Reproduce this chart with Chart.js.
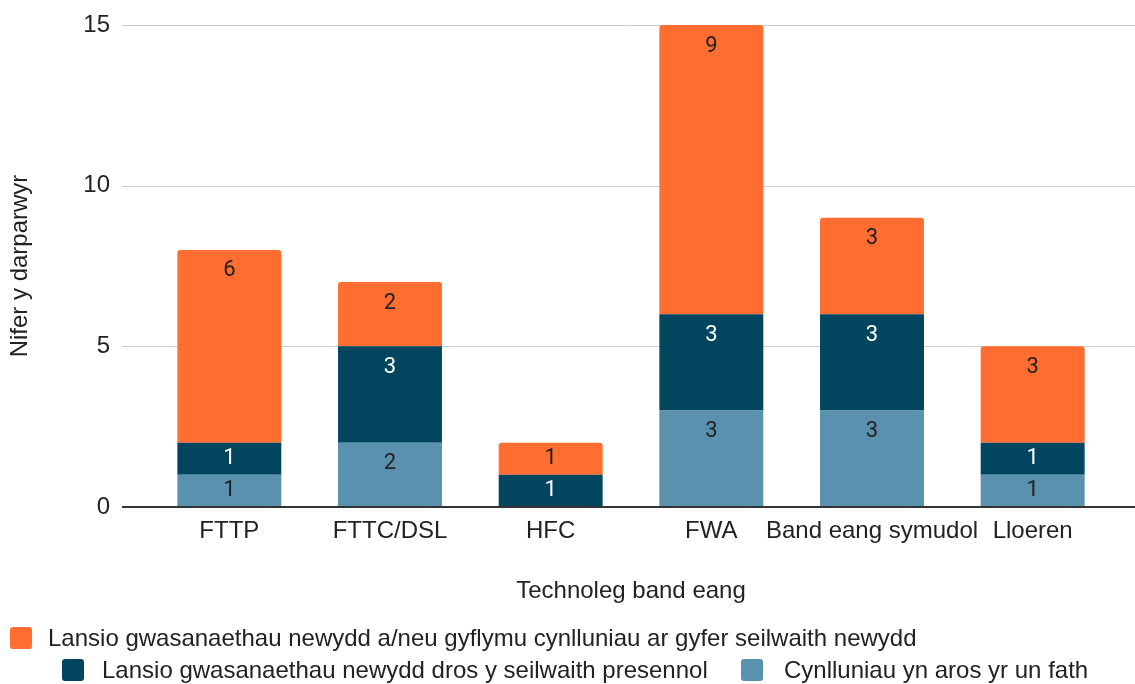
<!DOCTYPE html>
<html>
<head>
<meta charset="utf-8">
<script src="https://cdn.jsdelivr.net/npm/chart.js@4"></script>
<style>
html,body{margin:0;padding:0;background:#fff;}
#wrap{width:1135px;height:684px;position:relative;}
</style>
</head>
<body>
<div id="wrap"><canvas id="c" width="1135" height="684"></canvas></div>
<script>
const categories = ['FTTP', 'FTTC/DSL', 'HFC', 'FWA', 'Band eang symudol', 'Lloeren'];
const seriesNames = [
  'Cynlluniau yn aros yr un fath',
  'Lansio gwasanaethau newydd dros y seilwaith presennol',
  'Lansio gwasanaethau newydd a/neu gyflymu cynlluniau ar gyfer seilwaith newydd'
];
const sameValues = [1, 2, 0, 3, 3, 1];
const existingInfraValues = [1, 3, 1, 3, 3, 1];
const newInfraValues = [6, 2, 1, 9, 3, 3];
const yTickStep = 5;
const yMax = 15;
const xTitle = 'Technoleg band eang';
const yTitle = 'Nifer y darparwyr';

const colors = ['#5a91ae', '#01455f', '#ff6d31'];
const labelColors = ['#222222', '#ffffff', '#222222'];
const AX_FONT = '"Liberation Sans", Arial, sans-serif';
const LBL_FONT = 'Roboto, "Liberation Sans", sans-serif';

const gridPlugin = {
  id: 'gridExt',
  beforeDatasetsDraw(chart) {
    const y = chart.scales.y, ctx = chart.ctx;
    ctx.save();
    ctx.strokeStyle = '#cccccc';
    ctx.lineWidth = 1;
    y.ticks.forEach(t => {
      if (t.value === 0) return;
      const py = Math.round(y.getPixelForValue(t.value)) + 0.5;
      ctx.beginPath(); ctx.moveTo(122, py); ctx.lineTo(1135, py); ctx.stroke();
    });
    ctx.restore();
  },
  afterDatasetsDraw(chart) {
    const y = chart.scales.y, ctx = chart.ctx;
    ctx.save();
    ctx.strokeStyle = '#333333';
    ctx.lineWidth = 2;
    const py = y.getPixelForValue(0);
    ctx.beginPath(); ctx.moveTo(122, py); ctx.lineTo(1135, py); ctx.stroke();
    ctx.font = '22px ' + LBL_FONT;
    ctx.textAlign = 'center';
    ctx.textBaseline = 'middle';
    chart.data.datasets.forEach((ds, i) => {
      const meta = chart.getDatasetMeta(i);
      meta.data.forEach((el, j) => {
        const v = ds.data[j];
        if (!v) return;
        const h = el.base - el.y;
        ctx.fillStyle = labelColors[i];
        ctx.fillText(String(v), el.x, el.y + Math.min(21, h / 2));
      });
    });
    ctx.restore();
  },
  afterDraw(chart) {
    const ctx = chart.ctx;
    const ds = chart.data.datasets;
    const items = [
      {i: 2, bx: 10, by: 627, tx: 48},
      {i: 1, bx: 62, by: 659, tx: 102},
      {i: 0, bx: 741, by: 659, tx: 784}
    ];
    ctx.save();
    ctx.font = '24px ' + AX_FONT;
    ctx.textBaseline = 'middle';
    ctx.textAlign = 'left';
    items.forEach(it => {
      ctx.fillStyle = ds[it.i].backgroundColor;
      ctx.beginPath();
      ctx.roundRect(it.bx, it.by, 22, 22, 3);
      ctx.fill();
      ctx.fillStyle = '#222222';
      ctx.fillText(ds[it.i].label, it.tx, it.by + 12);
    });
    ctx.restore();
  }
};

new Chart(document.getElementById('c'), {
  type: 'bar',
  data: {
    labels: categories,
    datasets: [
      {label: seriesNames[0], data: sameValues, backgroundColor: colors[0]},
      {label: seriesNames[1], data: existingInfraValues, backgroundColor: colors[1]},
      {label: seriesNames[2], data: newInfraValues, backgroundColor: colors[2],
       borderRadius: {topLeft: 3, topRight: 3, bottomLeft: 0, bottomRight: 0}, borderSkipped: false}
    ]
  },
  options: {
    responsive: false,
    animation: false,
    events: [],
    layout: {padding: {top: 25, left: 0, right: 22, bottom: 77}},
    datasets: {bar: {barPercentage: 1, categoryPercentage: 0.647, borderWidth: 0}},
    plugins: {legend: {display: false}, tooltip: {enabled: false}},
    scales: {
      x: {
        stacked: true,
        grid: {display: false},
        border: {display: false},
        ticks: {font: {size: 24, family: AX_FONT}, color: '#222222', padding: 2, maxRotation: 0, minRotation: 0, autoSkip: false},
        title: {display: true, text: xTitle, font: {size: 24, family: AX_FONT}, color: '#222222', padding: {top: 0, bottom: 1}},
        afterFit(s) { s.height = 100; }
      },
      y: {
        stacked: true,
        min: 0, max: yMax,
        grid: {display: true, color: 'rgba(0,0,0,0)', drawOnChartArea: false, drawTicks: true, tickLength: 39, tickColor: 'rgba(0,0,0,0)'},
        border: {display: false},
        ticks: {stepSize: yTickStep, font: {size: 24, family: AX_FONT}, color: '#222222', padding: 0},
        title: {display: true, text: yTitle, font: {size: 24, family: AX_FONT}, color: '#222222', padding: {top: 6, bottom: 0}},
        afterFit(s) { s.width = 149; }
      }
    }
  },
  plugins: [gridPlugin]
});
</script>
</body>
</html>
